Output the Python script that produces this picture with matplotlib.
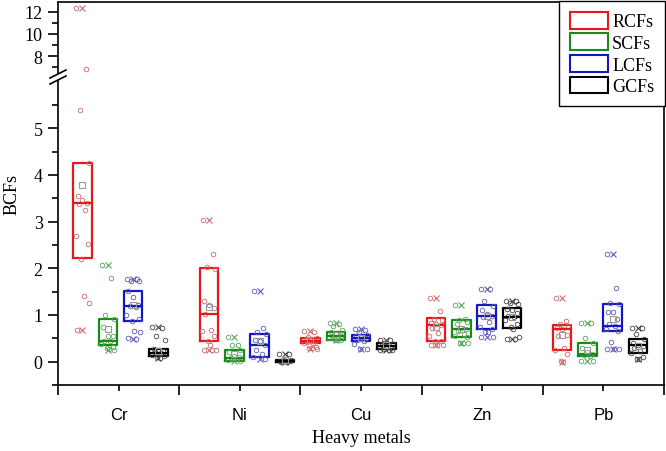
import matplotlib
matplotlib.use("Agg")
import numpy as np
import matplotlib.pyplot as plt
from matplotlib.patches import Patch, Polygon
from matplotlib.lines import Line2D

metals = ["Cr", "Ni", "Cu", "Zn", "Pb"]
groups = ["RCFs", "SCFs", "LCFs", "GCFs"]

# box stats, one value per metal (Cr, Ni, Cu, Zn, Pb)
q1 = {"RCFs": [2.23, 0.44, 0.39, 0.44, 0.26],
      "SCFs": [0.36, 0.01, 0.47, 0.52, 0.12],
      "LCFs": [0.87, 0.09, 0.44, 0.71, 0.66],
      "GCFs": [0.12, 0.00, 0.28, 0.73, 0.19]}
med = {"RCFs": [3.39, 1.02, 0.45, 0.79, 0.71],
       "SCFs": [0.45, 0.08, 0.55, 0.71, 0.17],
       "LCFs": [1.19, 0.35, 0.51, 0.98, 0.76],
       "GCFs": [0.19, 0.02, 0.34, 0.96, 0.35]}
q3 = {"RCFs": [4.26, 2.00, 0.51, 0.94, 0.78],
      "SCFs": [0.91, 0.24, 0.64, 0.90, 0.40],
      "LCFs": [1.52, 0.60, 0.58, 1.21, 1.23],
      "GCFs": [0.28, 0.04, 0.40, 1.15, 0.49]}
mean = {"RCFs": [3.78, 1.17, 0.47, 0.74, 0.58],
        "SCFs": [0.71, 0.17, 0.58, 0.70, 0.25],
        "LCFs": [1.22, 0.44, 0.50, 0.98, 0.92],
        "GCFs": [0.22, 0.03, 0.35, 0.95, 0.33]}

# individual samples
rcf_pts = [[12.4, 6.8, 5.39, 4.26, 3.56, 3.46, 3.40, 3.38, 3.26, 2.69, 2.53, 2.21, 1.41, 1.26, 0.67],
           [3.03, 2.30, 2.02, 1.98, 1.29, 1.21, 1.14, 1.02, 0.67, 0.66, 0.56, 0.44, 0.35, 0.25, 0.24, 0.24],
           [0.65, 0.63, 0.53, 0.51, 0.48, 0.46, 0.45, 0.43, 0.40, 0.39, 0.31, 0.30, 0.29, 0.28],
           [1.37, 1.09, 0.92, 0.90, 0.82, 0.80, 0.78, 0.72, 0.62, 0.55, 0.45, 0.44, 0.36, 0.35, 0.35],
           [1.37, 0.87, 0.80, 0.76, 0.72, 0.70, 0.57, 0.55, 0.30, 0.26, 0.17, 0.02, 0.00]]
scf_pts = [[2.07, 1.80, 1.01, 0.91, 0.75, 0.56, 0.55, 0.45, 0.44, 0.38, 0.32, 0.30, 0.27, 0.26],
           [0.53, 0.36, 0.35, 0.24, 0.20, 0.12, 0.10, 0.07, 0.05, 0.03, 0.01],
           [0.83, 0.80, 0.77, 0.68, 0.64, 0.60, 0.56, 0.55, 0.52, 0.50, 0.47, 0.46, 0.46],
           [1.22, 0.92, 0.90, 0.86, 0.80, 0.72, 0.70, 0.65, 0.60, 0.55, 0.52, 0.41, 0.40, 0.40],
           [0.82, 0.82, 0.51, 0.40, 0.30, 0.20, 0.17, 0.15, 0.12, 0.01, 0.01]]
lcf_pts = [[1.78, 1.78, 1.73, 1.72, 1.52, 1.39, 1.22, 1.20, 1.18, 1.01, 0.91, 0.87, 0.65, 0.63, 0.50, 0.49],
           [1.52, 0.73, 0.64, 0.60, 0.46, 0.44, 0.35, 0.26, 0.17, 0.09, 0.06],
           [0.69, 0.67, 0.64, 0.58, 0.55, 0.52, 0.50, 0.47, 0.44, 0.37, 0.28, 0.28],
           [1.55, 1.55, 1.30, 1.20, 1.10, 1.02, 0.98, 0.96, 0.85, 0.75, 0.71, 0.64, 0.64, 0.53, 0.53],
           [2.30, 1.57, 1.25, 1.23, 1.07, 1.06, 0.92, 0.80, 0.76, 0.70, 0.66, 0.42, 0.28, 0.28, 0.28]]
gcf_pts = [[0.75, 0.73, 0.56, 0.47, 0.27, 0.25, 0.22, 0.20, 0.18, 0.15, 0.12, 0.10, 0.08],
           [0.17, 0.17, 0.04, 0.03, 0.02, 0.01, 0.01, 0.00, 0.00],
           [0.47, 0.47, 0.40, 0.38, 0.35, 0.33, 0.30, 0.28, 0.25, 0.24, 0.24],
           [1.31, 1.30, 1.25, 1.24, 1.13, 1.10, 1.05, 0.98, 0.96, 0.90, 0.80, 0.75, 0.69, 0.52, 0.49, 0.49],
           [0.73, 0.73, 0.60, 0.49, 0.40, 0.36, 0.33, 0.30, 0.22, 0.19, 0.10, 0.06, 0.06]]
pts = {"RCFs": rcf_pts, "SCFs": scf_pts, "LCFs": lcf_pts, "GCFs": gcf_pts}

colors = {"RCFs": "#e8171c", "SCFs": "#1a8a1a", "LCFs": "#1414c8", "GCFs": "#000000"}
light = {"RCFs": "#cf6a6a", "SCFs": "#5aa55a", "LCFs": "#5a5ab4", "GCFs": "#444444"}

# layout: position of the first box in each metal group, spacing, width
BASE = [-0.298, 0.746, 1.583, 2.619, 3.658]
STEP = 0.209
WIDTH = 0.153
JIT = [-0.05, 0.03, -0.02, 0.05, -0.04, 0.0, 0.04, -0.03, 0.02, -0.055, 0.045, -0.01, 0.01, 0.055, -0.045, 0.025]

SERIF = "Liberation Serif"
SANS = "Liberation Sans"

fig = plt.figure(figsize=(6.66, 4.52), dpi=100)
L, R = 58 / 666, 664 / 666
y_bot, y_brk, y_top = 1 - 386 / 452, 1 - 78 / 452, 1 - 3 / 452
ax_lo = fig.add_axes([L, y_bot, R - L, y_brk - y_bot])
ax_hi = fig.add_axes([L, y_brk, R - L, y_top - y_brk], sharex=ax_lo)

for ax in (ax_hi, ax_lo):
    for k, g in enumerate(groups):
        pos = [b + k * STEP for b in BASE]
        stats = [dict(med=med[g][i], q1=q1[g][i], q3=q3[g][i],
                      whislo=q1[g][i], whishi=q3[g][i], mean=mean[g][i],
                      fliers=[]) for i in range(len(metals))]
        c = colors[g]
        ax.bxp(stats, positions=pos, widths=WIDTH, showmeans=True,
               showcaps=False, manage_ticks=False,
               boxprops=dict(color=c, lw=1.6),
               medianprops=dict(color=c, lw=1.6),
               whiskerprops=dict(lw=0),
               meanprops=dict(marker="s", mfc="none", mec="#999999", ms=5, mew=0.8))
        for i, vals in enumerate(pts[g]):
            xs = [pos[i] + JIT[j % len(JIT)] for j in range(len(vals))]
            ax.plot(xs, vals, "o", mfc="none", mec=light[g], ms=3.3, mew=0.6)
            ax.plot([pos[i], pos[i]], [min(vals), max(vals)], "x",
                    color=light[g], ms=4.5, mew=0.8)

ax_lo.set_ylim(-0.49, 6.1)
ax_hi.set_ylim(6.1, 12.9)
ax_lo.set_xlim(-0.5, 4.5)

for ax in (ax_hi, ax_lo):
    for s in ax.spines.values():
        s.set_linewidth(1.2)
ax_hi.spines["bottom"].set_visible(False)
ax_lo.spines["top"].set_visible(False)

ax_lo.set_yticks(range(0, 6))
ax_lo.set_yticks(np.arange(-0.5, 6.0, 0.5), minor=True)
ax_hi.set_yticks([8, 10, 12])
ax_hi.set_yticks([7, 9, 11], minor=True)
for ax in (ax_hi, ax_lo):
    ax.tick_params(axis="y", which="major", length=7, width=1.2, direction="out",
                   labelsize=13, pad=4)
    ax.tick_params(axis="y", which="minor", length=4, width=1.2, direction="out")
    for t in ax.get_yticklabels():
        t.set_family(SERIF)

ax_hi.tick_params(axis="x", which="both", bottom=False, labelbottom=False)
ax_lo.set_xticks(np.arange(-0.5, 5.0, 1.0))
ax_lo.set_xticklabels([])
ax_lo.set_xticks(range(len(metals)), minor=True)
ax_lo.set_xticklabels(metals, minor=True, family=SANS, fontsize=12)
ax_lo.tick_params(axis="x", which="major", length=7, width=1.2, direction="out")
ax_lo.tick_params(axis="x", which="minor", length=4, width=1.2, direction="out", pad=12)

ax_lo.set_xlabel("Heavy metals", family=SERIF, fontsize=13, labelpad=5)
fig.text(0.018, 1 - 195 / 452, "BCFs", rotation=90, va="center", ha="center",
         family=SERIF, fontsize=13)

# axis break marks on the left spine
bx, by = L, y_brk
dx, dy = 8 / 666, 4 / 452
gap = 3 / 452
fig.add_artist(Polygon([(bx - dx, by - dy - gap), (bx + dx, by + dy - gap),
                        (bx + dx, by + dy + gap), (bx - dx, by - dy + gap)],
                       closed=True, transform=fig.transFigure, fc="white", ec="none", zorder=10))
for off in (-gap, gap):
    fig.add_artist(Line2D([bx - dx, bx + dx], [by - dy + off, by + dy + off],
                          transform=fig.transFigure, color="black", lw=1.2, zorder=11))

handles = [Patch(facecolor="none", edgecolor=colors[g], lw=1.5, label=g) for g in groups]
leg = fig.legend(handles=handles, loc="upper right", bbox_to_anchor=(665 / 666, 1 - 2 / 452),
                 prop={"family": SERIF, "size": 13}, frameon=True, fancybox=False,
                 edgecolor="black", framealpha=1, handlelength=2.15, handleheight=1.05,
                 handletextpad=0.2, labelspacing=0.17, borderpad=0.6, borderaxespad=0)
leg.get_frame().set_linewidth(1.0)
leg.set_zorder(20)

fig.savefig("out.png", dpi=100)
